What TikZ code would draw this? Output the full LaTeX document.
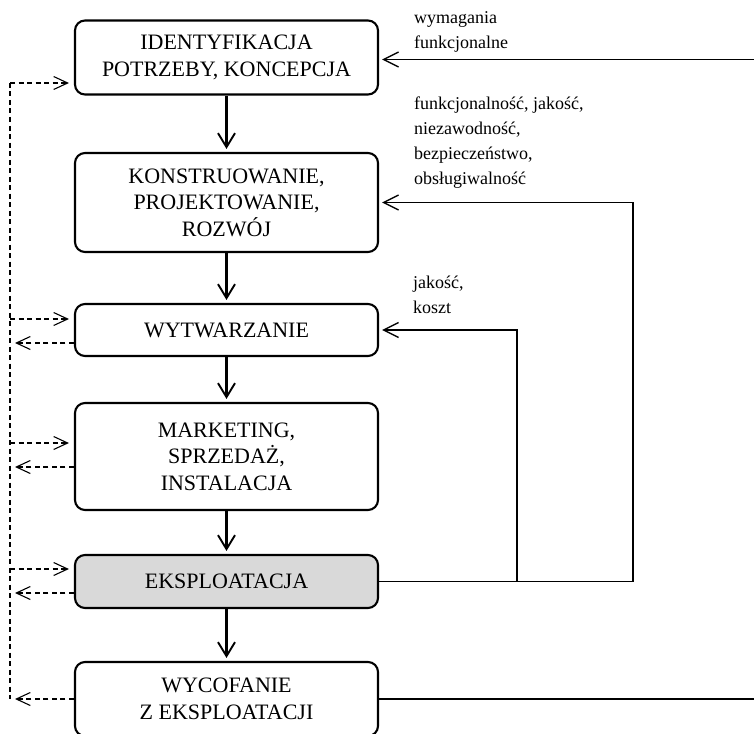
\documentclass[tikz,border=0pt]{standalone}
\usepackage{fontspec}
\setmainfont{Liberation Serif}
\usetikzlibrary{arrows.meta}
\begin{document}
\begin{tikzpicture}[x=1pt,y=-1pt,
  stage/.style={draw, line width=2.1pt, rounded corners=10pt, minimum width=303pt,
    inner sep=0pt, align=center, font=\fontsize{22}{26.5}\selectfont},
  flow/.style={line width=2.1pt, -{Straight Barb[length=14pt,width=17pt,line width=1.9pt]}, shorten >=3pt},
  feed/.style={line width=1.4pt},
  feedarrow/.style={feed, -{Straight Barb[length=15pt,width=15pt]}, shorten >=3pt},
  back/.style={line width=1.1pt, dash pattern=on 5pt off 3.5pt},
  backarrow/.style={back, -{Straight Barb[length=14pt,width=13pt]}, shorten >=5pt},
  note/.style={anchor=base west, inner sep=0pt, align=left, font=\fontsize{18}{25}\selectfont},
]
\useasboundingbox (0,0) rectangle (754,733);

% life-cycle stages
\node[stage, minimum height=74pt]  (b1) at (226.5,57.5) {IDENTYFIKACJA\\POTRZEBY, KONCEPCJA};
\node[stage, minimum height=99pt]  (b2) at (226.5,202.5){KONSTRUOWANIE,\\PROJEKTOWANIE,\\ROZWÓJ};
\node[stage, minimum height=52pt]  (b3) at (226.5,330)  {WYTWARZANIE};
\node[stage, minimum height=107pt] (b4) at (226.5,456.5){MARKETING,\\SPRZEDAŻ,\\INSTALACJA};
\node[stage, minimum height=53pt, fill={rgb,255:red,217;green,217;blue,217}] (b5) at (226.5,581.5) {EKSPLOATACJA};
\node[stage, minimum height=74pt]  (b6) at (226.5,699)  {WYCOFANIE\\Z EKSPLOATACJI};

% main flow
\draw[flow] (b1) -- (b2);
\draw[flow] (b2) -- (b3);
\draw[flow] (b3) -- (b4);
\draw[flow] (b4) -- (b5);
\draw[flow] (b5) -- (b6);

% feedback on the right
\coordinate (inA)  at (754,59.5);
\coordinate (outB) at (754,699);
\coordinate (jA)   at (633,581.5);
\coordinate (jB)   at (517,581.5);
\draw[feedarrow] (inA) -- (inA -| b1.east);
\draw[feed] (b5) -- (jA);
\draw[feedarrow] (jA) |- (b2);
\draw[feedarrow] (jB) |- (b3);
\draw[feed] (b6) -- (outB);

% labels (anchored at the baseline of their last line)
\node[note] (lA) at (414,48.5) {wymagania\\funkcjonalne};
\node[note] (lB) at (414,184)  {funkcjonalność, jakość,\\niezawodność,\\bezpieczeństwo,\\obsługiwalność};
\node[note] (lC) at (413,313)  {jakość,\\koszt};

% dashed information links on the left
\coordinate (tTop) at (10,83);
\coordinate (tBot) at (10,699);
\draw[back] (tTop) -- (tBot);

\coordinate (i1) at ([yshift=-25.5pt]b1.west);
\coordinate (i3) at ([yshift=11pt]b3.west);
\coordinate (o3) at ([yshift=-13pt]b3.west);
\coordinate (i4) at ([yshift=13.5pt]b4.west);
\coordinate (o4) at ([yshift=-10.5pt]b4.west);
\coordinate (i5) at ([yshift=12.5pt]b5.west);
\coordinate (o5) at ([yshift=-11.5pt]b5.west);
\coordinate (o6) at (b6.west);

\draw[backarrow] (i1 -| tTop) -- (i1);
\draw[backarrow] (i3 -| tTop) -- (i3);
\draw[backarrow] (o3) -- (o3 -| tTop);
\draw[backarrow] (i4 -| tTop) -- (i4);
\draw[backarrow] (o4) -- (o4 -| tTop);
\draw[backarrow] (i5 -| tTop) -- (i5);
\draw[backarrow] (o5) -- (o5 -| tTop);
\draw[backarrow] (o6) -- (o6 -| tTop);
\end{tikzpicture}
\end{document}
